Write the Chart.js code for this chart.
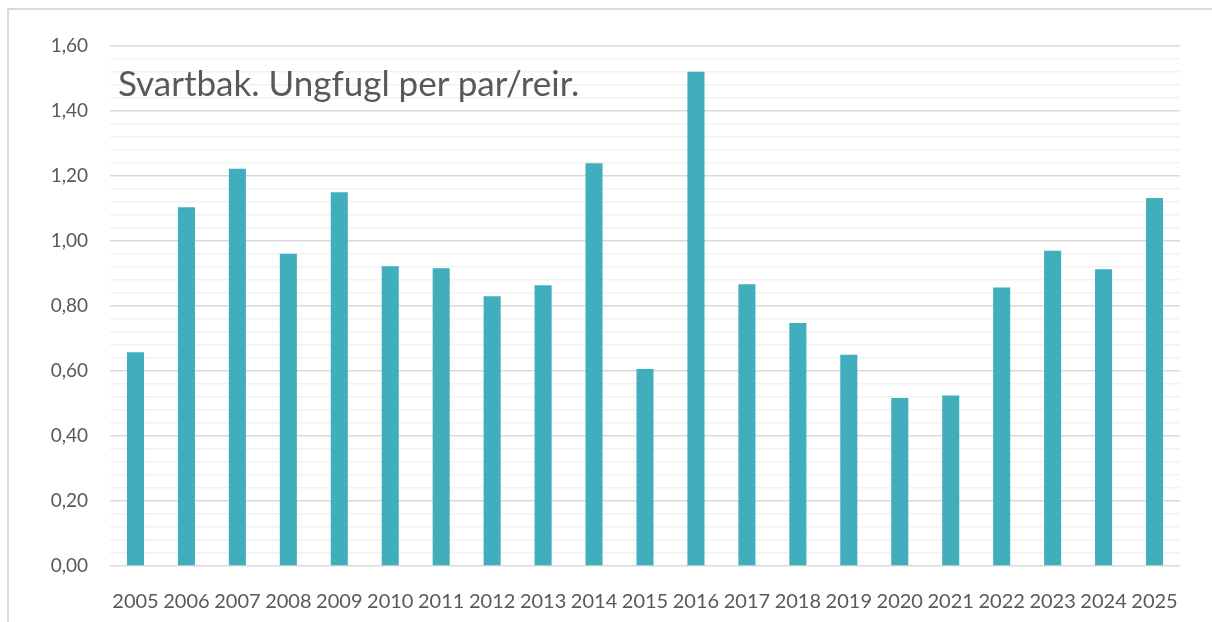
<!DOCTYPE html>
<html>
<head>
<meta charset="utf-8">
<script src="https://cdn.jsdelivr.net/npm/chart.js@4/dist/chart.umd.min.js"></script>
<style>
  body { margin: 0; background: #fff; }
  #wrap { position: relative; width: 1212px; height: 622px; overflow: hidden; }
  #frame { position: absolute; left: 7px; top: 8px; width: 1240px; height: 660px; border: 2px solid #d9d9d9; box-sizing: border-box; }
  #title { position: absolute; left: 118px; top: 61px; font-family: Lato, sans-serif; font-size: 35px; color: #595959; white-space: nowrap; }
  canvas { position: absolute; left: 0; top: 0; }
</style>
</head>
<body>
<div id="wrap">
  <div id="frame"></div>
  <canvas id="chart" width="1212" height="622"></canvas>
  <div id="title">Svartbak. Ungfugl per par/reir.</div>
</div>
<script>
const years = ['2005', '2006', '2007', '2008', '2009', '2010', '2011', '2012', '2013', '2014', '2015',
  '2016', '2017', '2018', '2019', '2020', '2021', '2022', '2023', '2024', '2025'];
const youngPerPair = [0.658, 1.104, 1.222, 0.961, 1.150, 0.922, 0.916, 0.830, 0.864, 1.239, 0.606,
  1.521, 0.867, 0.748, 0.650, 0.517, 0.525, 0.857, 0.970, 0.913, 1.132];
const yMin = 0;
const yMax = 1.6;
const majorStep = 0.2;
const minorStep = 0.04;

const isMajor = (v) => Math.abs(v / majorStep - Math.round(v / majorStep)) < 1e-6;

const ctx = document.getElementById('chart');
new Chart(ctx, {
  type: 'bar',
  data: {
    labels: years,
    datasets: [
      {
        label: 'Ungfugl per par/reir',
        data: youngPerPair,
        backgroundColor: '#41aebd',
        categoryPercentage: 1,
        barPercentage: 0.335,
      },
    ],
  },
  options: {
    responsive: false,
    animation: false,
    layout: { padding: { left: 0, right: 32, top: 46, bottom: 0 } },
    plugins: {
      legend: { display: false },
      tooltip: { enabled: false },
    },
    scales: {
      x: {
        grid: { display: false },
        border: { display: false },
        ticks: {
          color: '#595959',
          font: { family: 'Lato', size: 20 },
          padding: 16,
          maxRotation: 0,
          autoSkip: false,
        },
        afterFit: (s) => { s.height = 56; },
      },
      y: {
        min: yMin,
        max: yMax,
        border: { display: false },
        grid: {
          drawTicks: false,
          lineWidth: 1.5,
          color: (c) => (isMajor(c.tick.value) ? '#d9d9d9' : '#f2f2f2'),
        },
        ticks: {
          stepSize: minorStep,
          maxTicksLimit: 60,
          autoSkip: false,
          color: '#595959',
          font: { family: 'Lato', size: 19 },
          padding: 22,
          callback: (v) => (isMajor(v) ? Number(v).toFixed(2).replace('.', ',') : ''),
        },
        afterFit: (s) => { s.width = 110; },
      },
    },
  },
});
</script>
</body>
</html>
